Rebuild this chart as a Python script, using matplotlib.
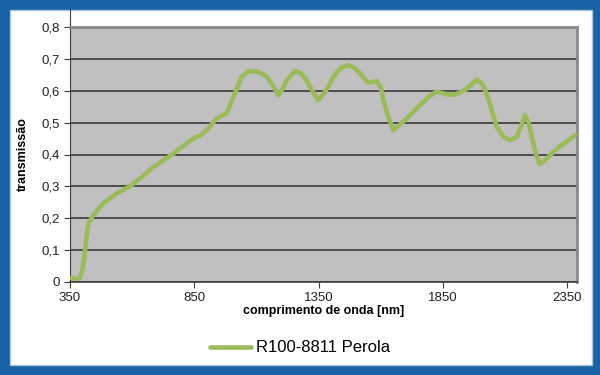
import matplotlib.pyplot as plt
from matplotlib.patches import Rectangle

plt.rcParams['font.family'] = ['Liberation Sans', 'DejaVu Sans']

wavelength = [357, 375, 390, 400, 406, 415, 424, 444, 484, 538, 591, 632, 685, 766,
              846, 880, 900, 940, 981, 1007, 1041, 1065, 1094, 1120, 1141, 1165,
              1188, 1205, 1222, 1255, 1280, 1302, 1325, 1349, 1380, 1410, 1440,
              1470, 1495, 1517, 1550, 1584, 1600, 1611, 1630, 1651, 1705, 1758,
              1800, 1826, 1860, 1893, 1940, 1987, 2010, 2027, 2067, 2095, 2120,
              2148, 2165, 2181, 2195, 2208, 2225, 2241, 2265, 2295, 2320, 2349, 2382]
transmissao = [0.012, 0.010, 0.012, 0.04, 0.07, 0.13, 0.185, 0.21, 0.247, 0.278, 0.30,
               0.325, 0.36, 0.403, 0.45, 0.462, 0.476, 0.513, 0.53, 0.58, 0.644,
               0.66, 0.662, 0.655, 0.644, 0.618, 0.586, 0.605, 0.633, 0.662, 0.655,
               0.633, 0.60, 0.57, 0.60, 0.644, 0.672, 0.68, 0.672, 0.654, 0.625,
               0.63, 0.61, 0.57, 0.52, 0.476, 0.513, 0.555, 0.585, 0.597, 0.59,
               0.586, 0.602, 0.635, 0.62, 0.59, 0.487, 0.455, 0.445, 0.455, 0.49,
               0.523, 0.50, 0.455, 0.40, 0.37, 0.385, 0.408, 0.425, 0.44, 0.46]

xticks = [350, 850, 1350, 1850, 2350]
yticks = [0, 0.1, 0.2, 0.3, 0.4, 0.5, 0.6, 0.7, 0.8]

fig = plt.figure(figsize=(6, 3.75), dpi=100)
fig.patch.set_facecolor('#1a62a6')
fig.patches.append(Rectangle((10 / 600, 10 / 375), 582 / 600, 355 / 375,
                             transform=fig.transFigure, facecolor='white',
                             edgecolor='#a9c4e0', lw=1, zorder=-5))

ax = fig.add_axes([70 / 600, 1 - 282 / 375, 507 / 600, 255 / 375])
ax.set_facecolor('#c0c0c0')
ax.plot(wavelength, transmissao, color='#9bbb59', lw=3.3, solid_joinstyle='round',
        solid_capstyle='round', label='R100-8811 Perola', zorder=3)

ax.set_xlim(350, 2390)
ax.set_ylim(0, 0.8)
ax.set_xticks(xticks)
ax.set_yticks(yticks)
ax.set_yticklabels([f'{v:g}'.replace('.', ',') for v in yticks])
ax.tick_params(labelsize=9.5, color='#404040', length=4, pad=3, labelcolor='#222222')
ax.grid(axis='y', color='#3a3a3a', lw=1.2)
ax.set_axisbelow(True)
for s in ['top', 'right']:
    ax.spines[s].set_color('#8a8a8a')
    ax.spines[s].set_linewidth(2)
ax.spines['left'].set_color('#404040')
ax.spines['bottom'].set_color('#404040')
ax.spines['bottom'].set_linewidth(1.2)
ax.plot([0, 0], [1, 1.07], transform=ax.transAxes, color='#404040', lw=0.8, clip_on=False)

ax.set_xlabel('comprimento de onda [nm]', fontsize=9, fontweight='bold', labelpad=1)
ax.set_ylabel('transmissão', fontsize=9, fontweight='bold', labelpad=9)

fig.legend(loc='center', bbox_to_anchor=(0.5, 1 - 348 / 375), frameon=False,
           fontsize=12, handlelength=2.5, handletextpad=0.3)

fig.savefig('out.png', dpi=100, facecolor=fig.get_facecolor())
